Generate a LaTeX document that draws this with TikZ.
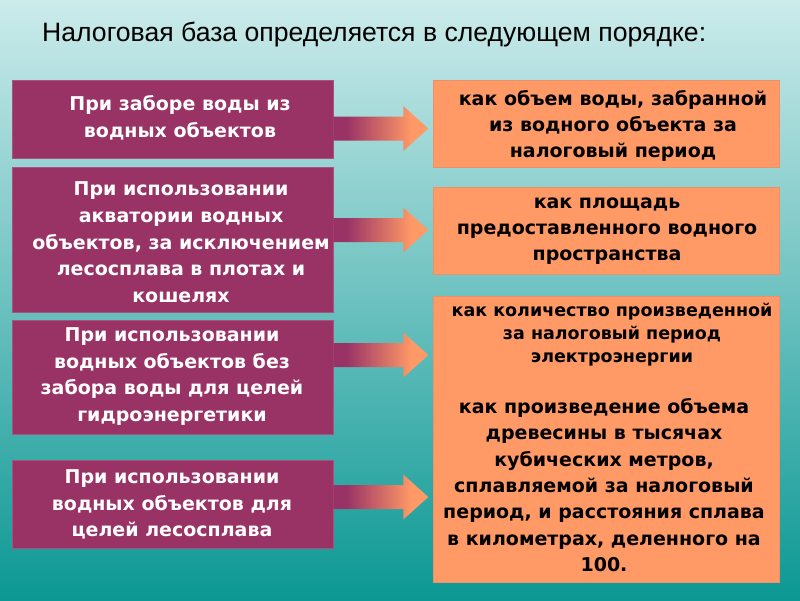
\documentclass[tikz,border=0pt]{standalone}
\usepackage{fontspec}
\setmainfont{DejaVu Sans}
\newfontfamily\titlefont{Liberation Sans}
\usetikzlibrary{calc}
\definecolor{pur}{RGB}{153,51,102}
\definecolor{ora}{RGB}{255,153,102}
\definecolor{bgtop}{RGB}{204,235,235}
\definecolor{bgbot}{RGB}{12,152,148}
\pgfdeclarehorizontalshading{arrsh}{100bp}{color(0bp)=(pur); color(32bp)=(pur); color(66bp)=(ora); color(100bp)=(ora)}
\tikzset{
  lbox/.style={draw=pur!85!white, line width=0.6pt, fill=pur, inner sep=0pt, minimum width=321pt},
  rbox/.style={draw=ora!80!gray, line width=0.6pt, fill=ora, inner sep=0pt, minimum width=346pt},
  ltext/.style={text=white, font=\fontsize{19}{26.7}\selectfont\bfseries, align=center, inner sep=0pt},
  rtext/.style={text=black, font=\fontsize{19}{26.3}\selectfont\bfseries, align=center, inner sep=0pt},
  rsmall/.style={text=black, font=\fontsize{17.5}{23}\selectfont\bfseries, align=center, inner sep=0pt},
  blockarrow/.pic={\shade[shading=arrsh] (0,-12) -- (70,-12) -- (70,-22.5) -- (95,0) -- (70,22.5) -- (70,12) -- (0,12) -- cycle;}
}
\begin{document}
\begin{tikzpicture}[x=1pt,y=-1pt]
\useasboundingbox (0,0) rectangle (800,600);
\shade[top color=bgtop, bottom color=bgbot] (0,0) rectangle (800,600);

\node[anchor=base west, inner sep=0pt, font=\titlefont\fontsize{26.6}{30}\selectfont] (title) at (42,41) {Налоговая база определяется в следующем порядке:};

% left boxes
\node[lbox, minimum height=78pt] (l1) at (172.5,119) {};
\node[lbox, minimum height=145pt] (l2) at (172.5,239.5) {};
\node[lbox, minimum height=114pt] (l3) at (172.5,377) {};
\node[lbox, minimum height=88pt] (l4) at (172.5,504) {};
% right boxes
\node[rbox, minimum height=87pt] (r1) at (606,123.5) {};
\node[rbox, minimum height=87pt] (r2) at (606,230.5) {};
\node[rbox, minimum height=286pt] (r3) at (606,439) {};

% texts
\node[ltext] (l1t) at (180,117.5) {При заборе воды из\\водных объектов};
\node[ltext] (l2t) at (181,242.5) {При использовании\\акватории водных\\объектов, за исключением\\лесосплава в плотах и\\кошелях};
\node[ltext] (l3t) at (172,376.5) {При использовании\\водных объектов без\\забора воды для целей\\гидроэнергетики};
\node[ltext] (l4t) at (172,504.5) {При использовании\\водных объектов для\\целей лесосплава};
\node[rtext] (r1t) at (613,126) {как объем воды, забранной\\из водного объекта за\\налоговый период};
\node[rtext] (r2t) at (607,231) {как площадь\\предоставленного водного\\пространства};
\node[rsmall] (r3a) at (612,335) {как количество произведенной\\за налоговый период\\электроэнергии};
\node[rtext] (r3b) at (604,485) {как произведение объема\\древесины в тысячах\\кубических метров,\\сплавляемой за налоговый\\период, и расстояния сплава\\в километрах, деленного на\\100.};

% arrows
\coordinate (a1) at (l1.east |- 0,128.5);
\coordinate (a2) at (l2.east |- 0,230);
\coordinate (a3) at (l3.east |- 0,355);
\coordinate (a4) at (l4.east |- 0,497);
\pic at (a1) {blockarrow};
\pic at (a2) {blockarrow};
\pic at (a3) {blockarrow};
\pic at (a4) {blockarrow};
\end{tikzpicture}
\end{document}
